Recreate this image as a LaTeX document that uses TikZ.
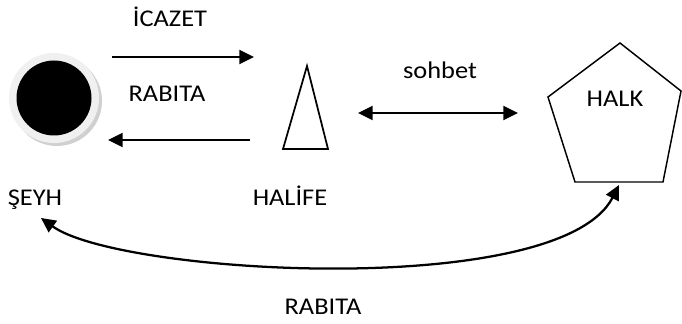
\documentclass[tikz,border=0pt]{standalone}
\usepackage{fontspec}
\setmainfont[FakeStretch=1.1]{Carlito}
\usetikzlibrary{arrows.meta}

\begin{document}
\begin{tikzpicture}[x=0.75pt, y=-0.75pt,
    lbl/.style={font=\fontsize{18}{20}\selectfont, anchor=base, inner sep=0pt},
    conn/.style={line width=1.7pt, -{Triangle[length=11pt, width=10.5pt]}},
    bothconn/.style={line width=1.7pt, {Triangle[length=11pt, width=10.5pt]}-{Triangle[length=11pt, width=10.5pt]}},
    outline/.style={line width=1.3pt, line join=miter}]
    \useasboundingbox (0, 0) rectangle (682, 324);

    % Define colors
    \definecolor{ringcolor}{RGB}{240, 240, 240}
    \definecolor{shadowcolor}{RGB}{208, 208, 208}

    % Seyh: black disc in a light ring with a shadow
    \fill[shadowcolor] (57, 101) circle (45);
    \fill[ringcolor] (54, 98) circle (45);
    \node[circle, fill=black, minimum size=56.25pt, inner sep=0pt] (seyh) at (54, 98) {};
    \node[lbl] (seyhlabel) at (35, 205) {ŞEYH};

    % Halife: narrow triangle
    \coordinate (halifetop) at (307, 66);
    \draw[outline] (halifetop) -- (328, 149) -- (283, 149) -- cycle;
    \node[lbl] (halifelabel) at (290, 205) {HALİFE};

    % Halk: pentagon
    \draw[outline, line width=1.1pt] (620, 43) -- (681, 91) -- (663, 182) -- (575, 182) -- (548, 97) -- cycle;
    \node[lbl] (halklabel) at (615, 107) {HALK};

    % Arrows between seyh and halife
    \coordinate (icazetfrom) at (112, 57);
    \coordinate (icazetto) at (254, 57);
    \draw[conn] (icazetfrom) -- (icazetto);
    \node[lbl] (icazetlabel) at (170, 27) {İCAZET};

    \coordinate (rabitafrom) at (250, 140);
    \coordinate (rabitato) at (108, 140);
    \draw[conn] (rabitafrom) -- (rabitato);
    \node[lbl] (rabitalabel) at (167, 102) {RABITA};

    % Sohbet between halife and halk
    \coordinate (sohbetleft) at (358, 113);
    \coordinate (sohbetright) at (518, 113);
    \draw[bothconn] (sohbetleft) -- (sohbetright);
    \node[lbl] (sohbetlabel) at (440, 79) {sohbet};

    % Long rabita from halk back to seyh
    \coordinate (seyhend) at (41, 218);
    \coordinate (halkend) at (619, 185);
    \draw[bothconn] (seyhend) .. controls (120, 275) and (560, 300) .. (halkend);
    \node[lbl] (longrabitalabel) at (323, 314) {RABITA};

\end{tikzpicture}
\end{document}
